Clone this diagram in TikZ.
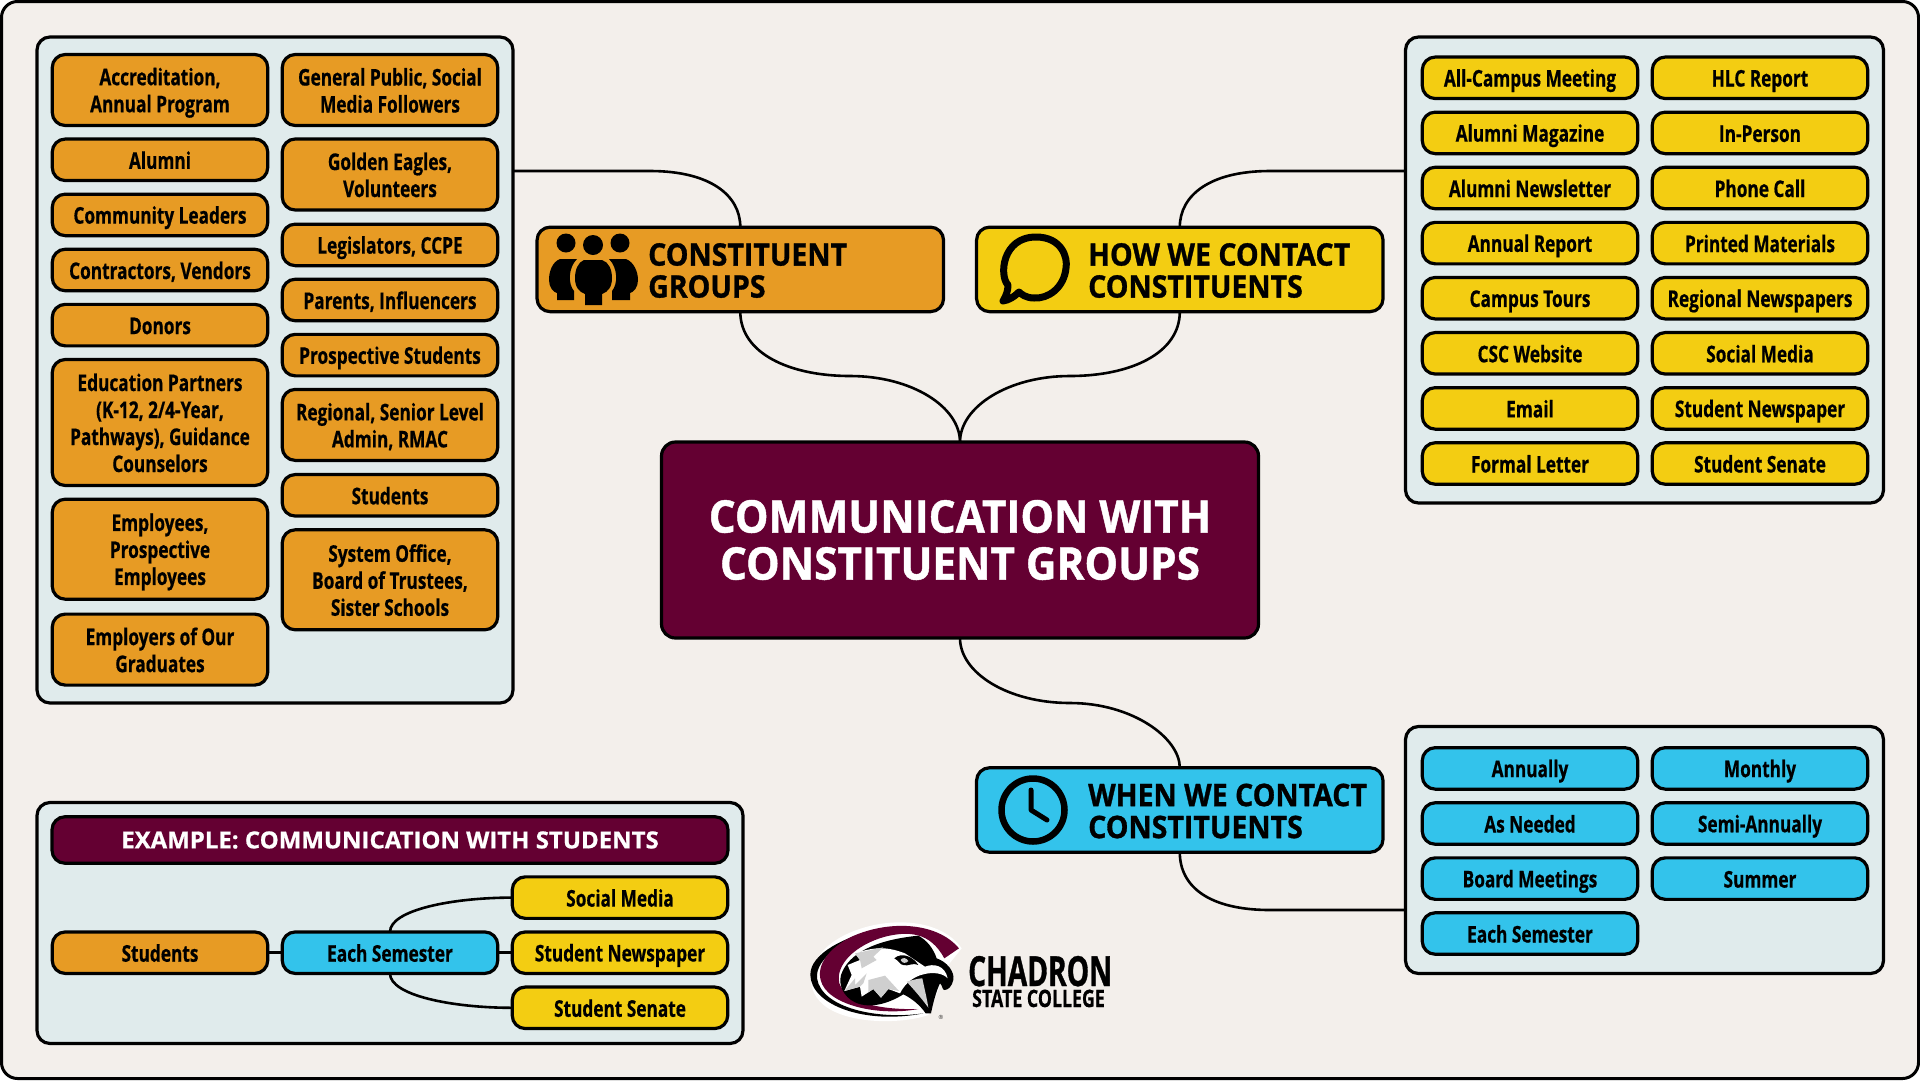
\documentclass[tikz,border=0pt]{standalone}
\usepackage{fontspec}
\setmainfont{Open Sans}
\newfontfamily\pillfam[FakeStretch=0.75,FakeBold=0.6]{Open Sans}
\newfontfamily\headfam[FakeStretch=0.92,FakeBold=1]{Open Sans}
\newfontfamily\ctrfam[FakeStretch=0.94,FakeBold=1]{Open Sans}
\newfontfamily\exfam[FakeStretch=1.02,FakeBold=0.8]{Open Sans}
\newfontfamily\logofam[FakeStretch=0.68,FakeBold=0.8]{Open Sans}
\newfontfamily\logosubfam[FakeStretch=0.74,FakeBold=0.6]{Open Sans}
\newcommand{\pillfont}{\pillfam\bfseries}
\newcommand{\headfont}{\headfam\bfseries}
\newcommand{\ctrfont}{\ctrfam\bfseries}
\newcommand{\exfont}{\exfam\bfseries}
\newcommand{\pillstrut}{\vrule width 0pt height 23pt depth 5pt\relax}
\definecolor{pagebg}{HTML}{F3EFEB}
\definecolor{panelbg}{HTML}{E0EBEC}
\definecolor{cOrange}{HTML}{E79B24}
\definecolor{cYellow}{HTML}{F3CD12}
\definecolor{cBlue}{HTML}{33C3EB}
\definecolor{cMaroon}{HTML}{640032}
\definecolor{cGrey}{HTML}{CFCFCF}
\tikzset{
  boxbase/.style={draw=black,line width=3.2pt,rounded corners=13pt,inner sep=0pt,outer sep=0pt,align=center,text=black},
  pill/.style={boxbase,minimum width=215.5pt,minimum height=41.5pt,font=\pillfont\fontsize{23}{27}\selectfont,
    execute at begin node=\pillstrut,execute at end node=\pillstrut},
  twolines/.style={minimum height=71pt,execute at begin node={\vrule width 0pt height 50pt depth 5pt\relax}},
  threelines/.style={minimum height=100pt,execute at begin node={\vrule width 0pt height 77pt depth 5pt\relax}},
  fourlines/.style={minimum height=126pt,execute at begin node={\vrule width 0pt height 104pt depth 5pt\relax}},
  orangepill/.style={pill,fill=cOrange},
  yellowpill/.style={pill,fill=cYellow},
  bluepill/.style={pill,fill=cBlue},
  panelbox/.style={draw=black,line width=3.2pt,rounded corners=13pt,fill=panelbg},
  headbox/.style={boxbase,minimum width=406.5pt,minimum height=84.5pt},
  headtext/.style={inner sep=0pt,anchor=west,align=left,text=black,font=\headfont\fontsize{31}{32}\selectfont},
  link/.style={draw=black,line width=2.6pt},
  iconfill/.style={fill=black,draw=none},
}
\begin{document}
\begin{tikzpicture}[x=1pt,y=-1pt]
\useasboundingbox (0,0) rectangle (1920,1080);
\draw[line width=3pt,rounded corners=16pt,fill=pagebg] (1.5,1.5) rectangle (1918.5,1078.5);

% panels
\node[panelbox,minimum width=476pt,minimum height=666pt,inner sep=0pt,outer sep=0pt] (panelA) at (275,370) {};
\node[panelbox,minimum width=478pt,minimum height=466pt,inner sep=0pt,outer sep=0pt] (panelB) at (1644.5,270) {};
\node[panelbox,minimum width=478pt,minimum height=247pt,inner sep=0pt,outer sep=0pt] (panelC) at (1644.5,850) {};
\node[panelbox,minimum width=706pt,minimum height=241pt,inner sep=0pt,outer sep=0pt] (panelD) at (390,923) {};

% main boxes
\node[boxbase,fill=cMaroon,minimum width=597pt,minimum height=196pt,rounded corners=14pt,text=white,
      font=\ctrfont\fontsize{45}{47}\selectfont] (central) at (960,540) {COMMUNICATION WITH\\CONSTITUENT GROUPS};
\node[headbox,fill=cOrange] (constituent) at (740.3,269.4) {};
\node[headbox,fill=cYellow] (how) at (1179.8,269.4) {};
\node[headbox,fill=cBlue] (when) at (1179.8,810) {};
\node[headtext] (constituentT) at (648,270.5) {CONSTITUENT\\GROUPS};
\node[headtext] (howT) at (1088,270.5) {HOW WE CONTACT\\CONSTITUENTS};
\node[headtext] (whenT) at (1088,811) {WHEN WE CONTACT\\CONSTITUENTS};

% connector helpers
\coordinate (aOut) at (panelA.east |- 0,171);
\coordinate (bOut) at (panelB.west |- 0,171);
\coordinate (cOut) at (panelC.west |- 0,910);
\coordinate (m1) at (850,376);
\coordinate (m2) at (1070,376);
\coordinate (m3) at (1070,703);
\coordinate (s1) at (650,171);
\coordinate (s2) at (1270,171);
\coordinate (s3) at (1270,910);
\draw[link] (aOut) -- (s1) .. controls +(60,0) and +(0,-32) .. (constituent.north);
\draw[link] (bOut) -- (s2) .. controls +(-60,0) and +(0,-32) .. (how.north);
\draw[link] (constituent.south) .. controls +(0,42) and +(-60,0) .. (m1) .. controls +(62,0) and +(0,-35) .. (central.north);
\draw[link] (how.south) .. controls +(0,42) and +(60,0) .. (m2) .. controls +(-62,0) and +(0,-35) .. (central.north);
\draw[link] (central.south) .. controls +(0,35) and +(-62,0) .. (m3) .. controls +(62,0) and +(0,-30) .. (when.north);
\draw[link] (when.south) .. controls +(0,35) and +(-60,0) .. (s3) -- (cOut);

% constituent pills - left
\node[orangepill,twolines] (a1) at (160,90) {Accreditation,\\Annual Program};
\node[orangepill] (a2) at (160,159.8) {Alumni};
\node[orangepill] (a3) at (160,214.9) {Community Leaders};
\node[orangepill] (a4) at (160,270) {Contractors, Vendors};
\node[orangepill] (a5) at (160,325.1) {Donors};
\node[orangepill,fourlines] (a6) at (160,422.5) {Education Partners\\(K-12, 2/4-Year,\\Pathways), Guidance\\Counselors};
\node[orangepill,threelines] (a7) at (160,549.2) {Employees,\\Prospective\\Employees};
\node[orangepill,twolines] (a8) at (160,649.6) {Employers of Our\\Graduates};
% constituent pills - right
\node[orangepill,twolines] (a9) at (390,90) {General Public, Social\\Media Followers};
\node[orangepill,twolines] (a10) at (390,174.5) {Golden Eagles,\\Volunteers};
\node[orangepill] (a11) at (390,244.9) {Legislators, CCPE};
\node[orangepill] (a12) at (390,300) {Parents, Influencers};
\node[orangepill] (a13) at (390,355.1) {Prospective Students};
\node[orangepill,twolines] (a14) at (390,424.9) {Regional, Senior Level\\Admin, RMAC};
\node[orangepill] (a15) at (390,495.3) {Students};
\node[orangepill,threelines] (a16) at (390,579.8) {System Office,\\Board of Trustees,\\Sister Schools};

% how pills
\node[yellowpill] (b1) at (1530,77.8) {All-Campus Meeting};
\node[yellowpill] (b2) at (1530,132.9) {Alumni Magazine};
\node[yellowpill] (b3) at (1530,188) {Alumni Newsletter};
\node[yellowpill] (b4) at (1530,243.1) {Annual Report};
\node[yellowpill] (b5) at (1530,298.2) {Campus Tours};
\node[yellowpill] (b6) at (1530,353.3) {CSC Website};
\node[yellowpill] (b7) at (1530,408.4) {Email};
\node[yellowpill] (b8) at (1530,463.5) {Formal Letter};
\node[yellowpill] (b9) at (1760,77.8) {HLC Report};
\node[yellowpill] (b10) at (1760,132.9) {In-Person};
\node[yellowpill] (b11) at (1760,188) {Phone Call};
\node[yellowpill] (b12) at (1760,243.1) {Printed Materials};
\node[yellowpill] (b13) at (1760,298.2) {Regional Newspapers};
\node[yellowpill] (b14) at (1760,353.3) {Social Media};
\node[yellowpill] (b15) at (1760,408.4) {Student Newspaper};
\node[yellowpill] (b16) at (1760,463.5) {Student Senate};

% when pills
\node[bluepill] (c1) at (1530,768.4) {Annually};
\node[bluepill] (c2) at (1530,823.5) {As Needed};
\node[bluepill] (c3) at (1530,878.6) {Board Meetings};
\node[bluepill] (c4) at (1530,933.5) {Each Semester};
\node[bluepill] (c5) at (1760,768.4) {Monthly};
\node[bluepill] (c6) at (1760,823.5) {Semi-Annually};
\node[bluepill] (c7) at (1760,878.6) {Summer};

% example
\node[boxbase,fill=cMaroon,minimum width=676pt,minimum height=46.5pt,text=white,
      font=\exfont\fontsize{23.5}{27}\selectfont] (exhead) at (390,840) {EXAMPLE: COMMUNICATION WITH STUDENTS};
\node[orangepill] (exstudents) at (160,952.7) {Students};
\node[bluepill] (exeach) at (390,952.7) {Each Semester};
\node[yellowpill] (exsocial) at (620,897.6) {Social Media};
\node[yellowpill] (exnews) at (620,952.7) {Student Newspaper};
\node[yellowpill] (exsenate) at (620,1007.8) {Student Senate};
\draw[link] (exstudents) -- (exeach);
\draw[link] (exeach) -- (exnews);
\draw[link] (exeach.north) .. controls +(0,-22) and +(-60,0) .. (exsocial.west);
\draw[link] (exeach.south) .. controls +(0,22) and +(-60,0) .. (exsenate.west);

% people icon
\fill (566,243) circle (9.5);
\fill (593,245) circle (10);
\fill (620,243) circle (9.5);
\path[iconfill] (560,259) .. controls (552,262) and (549,272) .. (549,280) .. controls (549,287) and (553,292) .. (557,293) -- (557,300) -- (574,300) -- (574,291) .. controls (568,284) and (568,268) .. (577,259) -- cycle;
\path[iconfill] (626,259) .. controls (634,262) and (638,272) .. (638,280) .. controls (638,287) and (634,292) .. (630,293) -- (630,300) -- (612,300) -- (612,291) .. controls (618,284) and (618,268) .. (609,259) -- cycle;
\path[iconfill] (584,260) -- (602,260) .. controls (609,262) and (612,270) .. (612,278) .. controls (612,287) and (608,292) .. (602,294) -- (602,305) -- (585,305) -- (585,294) .. controls (579,292) and (575,287) .. (575,278) .. controls (575,270) and (578,262) .. (584,260) -- cycle;

% speech bubble icon
\draw[line width=7pt,line join=round,fill=none] (1008,285) .. controls (999,276) and (1002,237) .. (1036,237) .. controls (1062,237) and (1068,258) .. (1066,268) .. controls (1064,288) and (1048,299) .. (1034,298) .. controls (1026,298) and (1021,294) .. (1019,292) .. controls (1014,297) and (1009,300) .. (1003,301) .. controls (1006,296) and (1008,291) .. (1008,285) -- cycle;

% clock icon
\draw[line width=6.5pt] (1033,810) circle (31.5);
\draw[line width=5pt,line cap=round,line join=round] (1031,790) -- (1031,810) -- (1047,820);

% logo
\begin{scope}[shift={(805,915)},x=0.3333pt,y=-0.3333pt]
  \path[fill=white] (470,100) .. controls (400,0) and (220,5) .. (110,65) .. controls (0,125) and (-10,230) .. (70,280) .. controls (150,330) and (300,325) .. (370,300) -- (430,150) -- cycle;
  \path[fill=black] (225,40) .. controls (120,65) and (15,115) .. (16,180) .. controls (18,270) and (180,330) .. (355,295) .. controls (220,315) and (50,280) .. (36,190) .. controls (30,130) and (120,70) .. (225,40) -- cycle;
  \path[fill=cMaroon] (462,100) .. controls (395,20) and (250,15) .. (140,65) .. controls (70,100) and (35,150) .. (47,195) .. controls (65,270) and (220,305) .. (340,282) .. controls (230,285) and (125,265) .. (103,205) .. controls (90,150) and (150,90) .. (240,65) .. controls (310,48) and (375,50) .. (418,130) -- cycle;
  \path[fill=black] (108,180) .. controls (130,115) and (210,75) .. (340,62) .. controls (365,75) and (385,100) .. (395,130) .. controls (425,140) and (450,170) .. (445,195) .. controls (440,215) and (430,225) .. (418,225) .. controls (412,225) and (412,210) .. (405,205) .. controls (395,225) and (385,260) .. (378,295) -- (362,295) .. controls (345,270) and (320,250) .. (295,238) .. controls (260,260) and (200,285) .. (150,262) .. controls (115,245) and (100,210) .. (108,180) -- cycle;
  \path[fill=white] (118,228) -- (140,180) -- (128,150) -- (165,135) -- (150,115) .. controls (220,90) and (260,100) .. (300,115) -- (360,155) .. controls (385,145) and (420,150) .. (428,190) .. controls (415,175) and (385,170) .. (355,178) .. controls (325,185) and (300,205) .. (285,235) -- (250,222) -- (228,248) -- (205,222) -- (170,245) -- (165,215) -- cycle;
  \path[fill=cGrey] (118,228) -- (150,190) -- (150,210) -- (185,175) -- (175,205) -- (165,215) -- cycle;
  \path[fill=cGrey] (190,195) -- (240,182) -- (282,228) -- (250,222) -- (228,248) -- (205,222) -- (190,232) -- cycle;
  \path[fill=cGrey] (150,115) -- (235,97) -- (205,125) -- (215,135) -- (170,160) -- (165,135) -- cycle;
  \path[fill=black] (268,130) .. controls (290,110) and (325,125) .. (340,150) .. controls (320,142) and (310,155) .. (295,150) .. controls (285,150) and (280,135) .. (268,130) -- cycle;
  \path[fill=cGrey] (287,135) .. controls (292,126) and (305,128) .. (310,138) .. controls (303,146) and (292,146) .. (287,135) -- cycle;
  \path[fill=cGrey] (305,200) .. controls (320,196) and (340,190) .. (352,190) .. controls (358,220) and (366,250) .. (370,278) .. controls (350,250) and (325,222) .. (305,200) -- cycle;
\end{scope}
\node[inner sep=0pt,font=\sffamily\fontsize{6}{6}\selectfont] (regmark) at (941,1017) {\textregistered};
\node[inner sep=0pt,anchor=base west,font=\logofam\bfseries\fontsize{41.5}{41}\selectfont,text=black] (chadron) at (968,986) {CHADRON};
\node[inner sep=0pt,anchor=base west,font=\logosubfam\bfseries\fontsize{24}{24}\selectfont,text=black] (statecollege) at (972,1007) {STATE COLLEGE};
\end{tikzpicture}
\end{document}
